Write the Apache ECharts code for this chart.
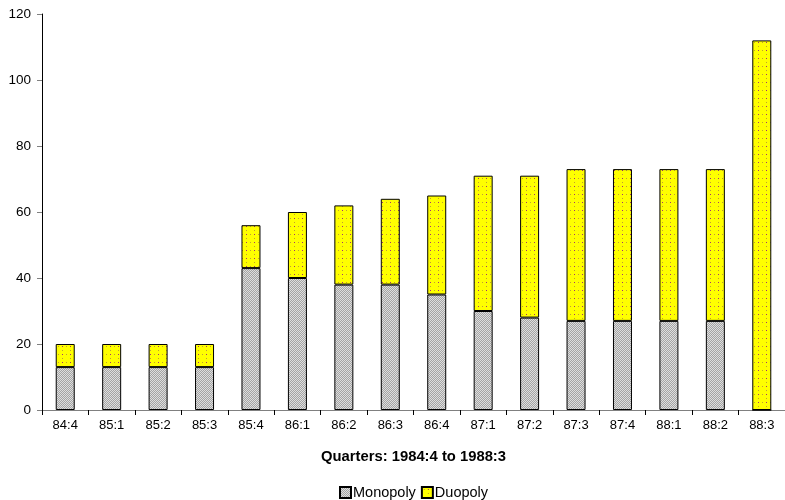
<!DOCTYPE html>
<html><head><meta charset="utf-8">
<script src="https://cdn.jsdelivr.net/npm/echarts@6/dist/echarts.min.js"></script>
<style>html,body{margin:0;padding:0;background:#fff}#c{width:785px;height:500px}</style>
</head><body><div id="c"></div>
<script>
var categories = ['84:4','85:1','85:2','85:3','85:4','86:1','86:2','86:3','86:4','87:1','87:2','87:3','87:4','88:1','88:2','88:3'];
var monopoly = [13,13,13,13,43,40,38,38,35,30,28,27,27,27,27,0];
var duopoly  = [7,7,7,7,13,20,24,26,30,41,43,46,46,46,46,112];
var yTicks = [0,20,40,60,80,100,120];

function makePattern(bg, fg){
  var c = document.createElement('canvas');
  c.width = 4; c.height = 4;
  var g = c.getContext('2d');
  g.fillStyle = bg; g.fillRect(0,0,4,4);
  g.fillStyle = fg;
  g.fillRect(0,0,1,1); g.fillRect(2,0,1,1); g.fillRect(1,1,1,1); g.fillRect(3,1,1,1);
  g.fillRect(0,2,1,1); g.fillRect(2,2,1,1); g.fillRect(1,3,1,1); g.fillRect(3,3,1,1);
  return c;
}
var c8 = document.createElement('canvas');
c8.width=8;c8.height=8;
var gg=c8.getContext('2d');
gg.fillStyle='#ffff00';gg.fillRect(0,0,8,8);
gg.fillStyle='#c0a030';gg.fillRect(2,2,1,1);gg.fillRect(6,6,1,1);
gg.fillStyle='#a03070';gg.fillRect(6,2,1,1);

var chart = echarts.init(document.getElementById('c'), null, {renderer:'canvas'});
var font = 'Liberation Sans, Arial, sans-serif';
chart.setOption({
  animation:false,
  textStyle:{fontFamily:font},
  grid:{left:42, top:14, width:744, height:396, containLabel:false},
  legend:{
    top:485, left:339, itemWidth:11, itemHeight:11, itemGap:5, icon:'rect', padding:0,
    textStyle:{fontFamily:font, fontSize:14.5, color:'#000', padding:[0,0,0,-3]},
    data:['Monopoly','Duopoly']
  },
  xAxis:{
    type:'category', data:categories,
    name:'Quarters: 1984:4 to 1988:3', nameLocation:'middle', nameGap:39,
    nameTextStyle:{fontFamily:font, fontSize:14.8, fontWeight:'bold', color:'#000'},
    axisLine:{lineStyle:{color:'#808080', width:1}},
    axisTick:{show:true, length:5, lineStyle:{color:'#000'}},
    axisLabel:{fontFamily:font, fontSize:13, color:'#000', margin:9, interval:0}
  },
  yAxis:{
    type:'value', min:0, max:120, interval:20,
    axisLine:{show:true, lineStyle:{color:'#000', width:1}},
    axisTick:{show:true, length:5, lineStyle:{color:'#808080'}},
    axisLabel:{fontFamily:font, fontSize:13.5, color:'#000', margin:11},
    splitLine:{show:false}
  },
  series:[
    {name:'Monopoly', type:'bar', stack:'a', data:monopoly, barWidth:19,
     itemStyle:{color:{image:makePattern('#a4a4a4','#dedede'), repeat:'repeat'}, borderColor:'#000', borderWidth:1}},
    {name:'Duopoly', type:'bar', stack:'a', data:duopoly, barWidth:19,
     itemStyle:{color:{image:c8, repeat:'repeat'}, borderColor:'#000', borderWidth:1}}
  ]
});
</script></body></html>
